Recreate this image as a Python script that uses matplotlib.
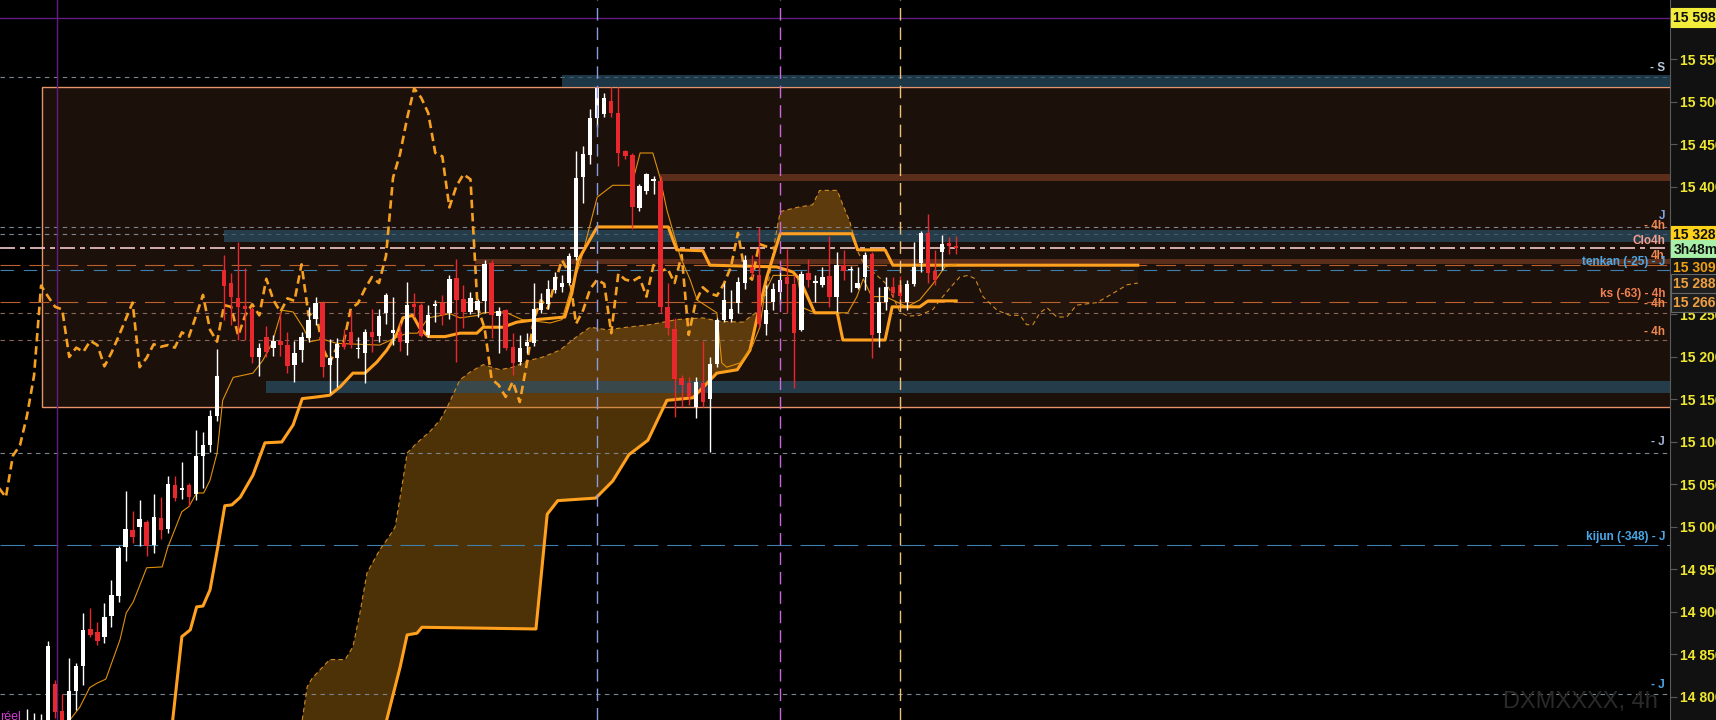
import matplotlib
matplotlib.use("Agg")
import matplotlib.pyplot as plt
from matplotlib.patches import Rectangle
import numpy as np

plt.rcParams['font.family'] = ['Liberation Sans', 'DejaVu Sans']

# 4h candles
opens = [14745, 14740, 14750, 14760, 14815, 14784, 14760, 14807, 14837, 14880,
         14876, 14870, 14895, 14919, 14976, 14996, 15000, 15006, 14979, 15011,
         14998, 15049, 15044, 15049, 15039, 15084, 15096, 15130, 15302, 15287,
         15269, 15260, 15256, 15200, 15224, 15210, 15219, 15214, 15191, 15208,
         15222, 15245, 15264, 15191, 15199, 15216, 15229, 15209, 15205, 15229,
         15225, 15252, 15228, 15229, 15216, 15262, 15261, 15226, 15260, 15263,
         15252, 15293, 15268, 15253, 15255, 15266, 15310, 15248, 15255, 15212,
         15194, 15213, 15216, 15255, 15262, 15279, 15282, 15287, 15318, 15412,
         15438, 15481, 15486, 15501, 15487, 15442, 15438, 15375, 15395, 15407,
         15407, 15259, 15233, 15175, 15169, 15141, 15169, 15150, 15192, 15244,
         15245, 15264, 15287, 15306, 15297, 15239, 15265, 15277, 15294, 15286,
         15232, 15299, 15287, 15285, 15295, 15271, 15308, 15302, 15281, 15294,
         15321, 15228, 15265, 15282, 15285, 15265, 15286, 15311, 15346, 15301,
         15324, 15334, 15331]
highs = [14786, 14781, 14780, 14866, 14820, 14804, 14846, 14840, 14899, 14905,
         14888, 14911, 14938, 14978, 15042, 15019, 15032, 15008, 15039, 15035,
         15060, 15060, 15076, 15052, 15114, 15112, 15138, 15209, 15320, 15299,
         15335, 15305, 15259, 15216, 15236, 15226, 15253, 15229, 15219, 15229,
         15259, 15271, 15266, 15221, 15222, 15233, 15255, 15224, 15233, 15257,
         15257, 15275, 15271, 15240, 15288, 15275, 15263, 15261, 15267, 15273,
         15297, 15315, 15285, 15276, 15268, 15314, 15314, 15259, 15257, 15228,
         15226, 15228, 15287, 15275, 15291, 15300, 15296, 15322, 15442, 15448,
         15492, 15518, 15511, 15518, 15518, 15444, 15440, 15404, 15417, 15413,
         15413, 15287, 15246, 15179, 15176, 15176, 15219, 15200, 15246, 15287,
         15279, 15294, 15320, 15320, 15353, 15285, 15287, 15300, 15327, 15296,
         15301, 15315, 15296, 15306, 15342, 15324, 15326, 15307, 15306, 15324,
         15323, 15282, 15294, 15294, 15295, 15290, 15335, 15348, 15368, 15326,
         15344, 15341, 15342]
lows = [14730, 14725, 14735, 14750, 14775, 14745, 14750, 14785, 14814, 14870,
        14861, 14864, 14882, 14912, 14960, 14981, 14978, 14966, 14969, 14986,
        14993, 15031, 15033, 15025, 15032, 15046, 15088, 15125, 15244, 15238,
        15220, 15220, 15193, 15178, 15200, 15201, 15201, 15181, 15171, 15194,
        15218, 15238, 15176, 15158, 15165, 15209, 15210, 15199, 15169, 15206,
        15218, 15239, 15214, 15207, 15202, 15247, 15223, 15223, 15241, 15238,
        15245, 15194, 15234, 15250, 15247, 15252, 15222, 15205, 15208, 15179,
        15190, 15205, 15213, 15252, 15257, 15275, 15276, 15285, 15314, 15381,
        15427, 15470, 15482, 15482, 15425, 15433, 15350, 15372, 15392, 15392,
        15252, 15226, 15129, 15141, 15144, 15128, 15141, 15088, 15188, 15241,
        15241, 15252, 15280, 15294, 15235, 15226, 15255, 15262, 15252, 15164,
        15230, 15282, 15265, 15282, 15259, 15253, 15291, 15276, 15280, 15279,
        15199, 15212, 15255, 15270, 15259, 15255, 15284, 15300, 15287, 15285,
        15302, 15321, 15321]
closes = [14765, 14760, 14765, 14860, 14782, 14760, 14807, 14837, 14879, 14873,
          14866, 14894, 14920, 14975, 14998, 14988, 15009, 14978, 15012, 14996,
          15051, 15034, 15046, 15035, 15084, 15096, 15131, 15178, 15284, 15271,
          15259, 15256, 15200, 15211, 15206, 15219, 15214, 15189, 15205, 15224,
          15244, 15264, 15188, 15199, 15215, 15212, 15214, 15211, 15229, 15224,
          15248, 15273, 15232, 15218, 15261, 15259, 15225, 15249, 15262, 15249,
          15292, 15267, 15253, 15269, 15266, 15309, 15249, 15254, 15211, 15193,
          15211, 15218, 15257, 15263, 15280, 15294, 15287, 15319, 15411, 15439,
          15481, 15516, 15505, 15487, 15440, 15436, 15376, 15401, 15415, 15409,
          15259, 15234, 15174, 15167, 15153, 15171, 15147, 15192, 15244, 15267,
          15257, 15288, 15314, 15299, 15239, 15255, 15280, 15291, 15286, 15228,
          15298, 15291, 15289, 15294, 15271, 15308, 15301, 15304, 15287, 15320,
          15226, 15265, 15282, 15275, 15272, 15286, 15306, 15346, 15299, 15291,
          15333, 15330, 15328]

# ichimoku lines (bar index, price)
tenkan_x = [6.1, 7.5, 8.9, 9.9, 11.2, 12.2, 13.2, 14.1, 15.1, 17.0, 19.2, 20.0, 22.0, 23.0,
            24.1, 25.1, 26.0, 27.0, 27.8, 29.3, 32.1, 33.5, 34.8, 36.2, 37.8, 39.2, 40.2,
            42.0, 44.0, 50.1, 53.0, 54.1, 55.5, 57.0, 60.1, 61.5, 64.1, 64.8, 67.9, 70.3,
            74.3, 76.0, 77.1, 78.6, 81.0, 83.2, 85.9, 87.1, 88.9, 89.9, 90.9, 92.8, 94.2,
            95.2, 96.7, 98.0, 98.7, 99.4, 101.3, 103.0, 104.1, 104.8, 106.0, 109.4, 110.2,
            111.9, 116.6, 117.9, 118.8, 120.0, 121.9, 123.0, 125.0, 126.8, 128.7, 130.4, 132.0]
tenkan_y = [14773, 14788, 14811, 14816, 14821, 14844, 14867, 14899, 14912, 14952, 14953,
            14976, 15018, 15024, 15040, 15040, 15055, 15087, 15149, 15176, 15181, 15196,
            15216, 15255, 15253, 15235, 15218, 15221, 15216, 15214, 15225, 15228, 15228,
            15246, 15251, 15246, 15249, 15252, 15253, 15244, 15240, 15244, 15275, 15311,
            15388, 15402, 15402, 15440, 15440, 15412, 15373, 15318, 15291, 15267, 15259,
            15252, 15193, 15188, 15193, 15212, 15235, 15275, 15296, 15296, 15258, 15252,
            15252, 15271, 15292, 15271, 15271, 15267, 15259, 15267, 15286, 15306, 15309]

kijun_x = [20.7, 22.0, 23.2, 24.1, 25.0, 26.0, 27.1, 28.1, 29.1, 30.3, 32.1, 33.8, 36.2,
           37.8, 39.1, 41.2, 43.0, 44.5, 46.3, 48.0, 49.7, 51.1, 52.6, 53.4, 54.8, 55.8,
           57.0, 59.4, 61.5, 63.9, 64.8, 67.6, 69.6, 72.4, 76.4, 77.4, 78.3, 81.0, 91.1,
           92.3, 96.0, 97.0, 106.5, 108.8, 109.8, 111.9, 115.1, 115.9, 121.9, 122.9, 126.8,
           128.0, 132.0]
kijun_y = [14773, 14871, 14879, 14906, 14907, 14926, 14976, 15025, 15026, 15035, 15061,
           15099, 15100, 15120, 15151, 15153, 15155, 15165, 15181, 15181, 15194, 15208,
           15228, 15246, 15249, 15234, 15224, 15224, 15228, 15228, 15235, 15235, 15241,
           15244, 15247, 15275, 15314, 15353, 15353, 15326, 15325, 15308, 15306, 15300,
           15291, 15252, 15252, 15220, 15220, 15259, 15259, 15266, 15266]

span_a_x = [39.1, 39.8, 40.5, 43.0, 45.2, 46.3, 47.3, 48.3, 50.1, 51.3, 52.3, 53.4, 54.0,
            55.4, 57.2, 58.7, 59.7, 61.5, 62.9, 64.8, 67.2, 69.0, 71.4, 73.3, 75.7, 78.1,
            80.0, 82.4, 85.2, 88.5, 92.3, 96.0, 98.4, 101.7, 103.7, 105.1, 106.3, 107.0,
            109.4, 111.6, 112.6, 115.1, 115.9, 116.9, 117.9, 118.8, 120.2, 122.2, 124.0,
            125.1, 126.8, 128.7, 129.7, 131.1, 132.5, 133.7, 134.7, 135.8, 137.8, 139.6,
            141.1, 142.0, 142.9, 143.9, 144.9, 146.3, 147.7, 149.1, 152.0, 154.3, 156.3, 157.8]
span_a_y = [14773, 14812, 14822, 14844, 14844, 14859, 14899, 14946, 14973, 14987, 15000,
            15055, 15087, 15099, 15112, 15126, 15141, 15173, 15182, 15191, 15185, 15188,
            15196, 15200, 15208, 15224, 15235, 15232, 15235, 15238, 15244, 15246, 15242,
            15241, 15253, 15276, 15340, 15371, 15376, 15379, 15396, 15396, 15379, 15359,
            15326, 15311, 15300, 15285, 15253, 15248, 15249, 15256, 15267, 15281, 15294,
            15296, 15292, 15271, 15255, 15249, 15249, 15238, 15238, 15252, 15258, 15247,
            15247, 15261, 15264, 15275, 15285, 15287]

span_b_x = [51.1, 51.8, 53.0, 54.0, 55.4, 56.1, 72.3, 73.9, 75.4, 80.8, 83.2, 85.5, 88.2,
            90.9, 94.6, 98.0, 100.9, 102.7, 103.8, 105.1, 107.0, 117.2, 118.0, 121.9, 123.0, 157.8]
span_b_y = [14773, 14796, 14835, 14873, 14875, 14882, 14880, 15015, 15031, 15034, 15054,
            15085, 15102, 15149, 15152, 15181, 15185, 15208, 15249, 15294, 15345, 15345,
            15326, 15326, 15308, 15308]
chikou_shift = 26

# drawn zones: start bar, low, high
box_zone = (2.13, 15141, 15518)
teal_zones = [(76.0, 15518, 15532), (28.0, 15335, 15349), (33.9, 15158, 15172)]
brown_zones = [(89.9, 15407, 15415), (63.6, 15309, 15315)]

# horizontal levels
gray_levels = [15529, 15353, 15345, 15087, 14804]
brown_levels = [15252, 15220]
ks_levels = [15308, 15265]
blue_levels = [15302, 14979]
last_price = 15328
purple_level = 15599
purple_bar = 4.25
vlines = [(81, '#8c9ae0'), (107, '#cc66dd'), (124, '#eec276')]

right_labels = [("- S", 15540, '#b8c8dc'), ("J", 15366, '#7fa8e8'),
                ("- 4h", 15354, '#f08850'), ("Clo4h", 15336, '#f4a090'),
                ("4h", 15319, '#f08850'), ("tenkan (-25) - J", 15312, '#4aa8e8'),
                ("ks (-63) - 4h", 15274, '#f08050'), ("- 4h", 15262, '#f08850'),
                ("- 4h", 15229, '#f08850'), ("- J", 15100, '#a8b8d8'),
                ("kijun (-348) - J", 14988, '#4aa8e8'), ("- J", 14814, '#4aa8e8')]

price_tags = [("15 598", 15599, '#111111', '#f2ec3a', '#f2ec3a'),
              ("15 328", 15343, '#111111', '#ffd21a', '#ffd21a'),
              ("3h48m", 15326, '#111111', '#a8f0a8', '#a8f0a8'),
              ("15 309", 15305, '#f0a010', '#151515', '#151515'),
              ("15 288", 15286, '#f0a040', '#1e1e1e', '#666666'),
              ("15 266", 15264, '#f0a040', '#1e1e1e', '#666666')]

ticks = [14800, 14850, 14900, 14950, 15000, 15050, 15100, 15150, 15200, 15250,
         15400, 15450, 15500, 15550]

fig = plt.figure(figsize=(17.16, 7.2), dpi=100, facecolor='#111111')
ax = fig.add_axes([0, 0, 1670 / 1716, 1])
ax.set_facecolor('black')
ax.set_xlim(-3.835, 233.4)
ax.set_ylim(14772.9, 15620)

# big box
ax.add_patch(Rectangle((box_zone[0], box_zone[1]), 300, box_zone[2] - box_zone[1],
                       fc='#1c100b', ec='#e8946a', lw=1, zorder=0.5))

# cloud
grid = np.linspace(span_a_x[0], span_a_x[-1], 3000)
a = np.interp(grid, span_a_x, span_a_y)
b = np.interp(grid, span_b_x, span_b_y, left=14600)
ax.fill_between(grid, a, b, where=a >= b, color='#b87812', alpha=0.42, lw=0, zorder=1)
ax.fill_between(grid, a, b, where=a < b, color='#b87812', alpha=0.05, lw=0, zorder=1)

for start, lo, hi in brown_zones:
    ax.add_patch(Rectangle((start, lo), 300, hi - lo, fc='#62321c', alpha=0.9, lw=0, zorder=1.5))

# levels
for p in gray_levels:
    ax.axhline(p, color='#7c8690', lw=0.8, ls=(0, (4, 4)), zorder=2)
for p in brown_levels:
    ax.axhline(p, color='#8a6656', lw=0.8, ls=(0, (4, 4)), zorder=2)
for p in ks_levels:
    ax.axhline(p, color='#b8602e', lw=0.8, ls=(0, (18, 8)), zorder=2)
ax.axhline(blue_levels[0], color='#3f7fae', lw=0.8, ls=(0, (12, 9)), zorder=2)
ax.axhline(blue_levels[1], color='#3f7fae', lw=0.8, ls=(0, (22, 8)), zorder=2)
ax.axhline(last_price, color='#f4c8c8', lw=1.2, ls=(0, (9, 3, 3, 3)), zorder=2)
ax.axhline(purple_level, color='#641e82', lw=1, zorder=2)
ax.axvline(purple_bar, color='#641e82', lw=1, zorder=2)

for start, lo, hi in teal_zones:
    ax.add_patch(Rectangle((start, lo), 300, hi - lo, fc='#2a4f66', alpha=0.7, lw=0, zorder=2.5))

# ichimoku
ax.plot(span_a_x, span_a_y, color='#d08a20', lw=0.8, ls=(0, (4, 3)), zorder=3)
ax.plot(span_b_x, span_b_y, color='#ffa01e', lw=2.2, zorder=3)
idx = np.arange(len(closes))
ax.plot(idx - chikou_shift, closes, color='#f5a020', lw=1.9, ls=(0, (3.2, 1.8)), zorder=3)
ax.plot(tenkan_x, tenkan_y, color='#e0900a', lw=0.8, zorder=3)
ax.plot(kijun_x, kijun_y, color='#ffa01e', lw=2.2, zorder=3)

# candles
o = np.array(opens); c = np.array(closes)
up = c >= o
cols = np.where(up, '#ffffff', '#e8282c')
ax.vlines(idx, lows, highs, colors=cols, lw=1, zorder=4)
body = np.maximum(np.abs(c - o), 1.3)
ax.bar(idx, body, bottom=np.minimum(o, c), width=0.62, color=cols, lw=0, zorder=4.1)

for x, col in vlines:
    ax.axvline(x, color=col, lw=1, ls=(0, (9, 5)), zorder=5)

# right side labels
for txt, p, col in right_labels:
    ax.text(232.7, p, txt, color=col, fontsize=8.5, fontweight='bold',
            ha='right', va='center', zorder=6)

ax.text(-3.8, 14776, "réel", color='#d040d0', fontsize=9, va='center', zorder=6)

# axis
for s in ['top', 'left', 'bottom']:
    ax.spines[s].set_visible(False)
ax.spines['right'].set_color('#5a5a5a')
ax.set_xticks([])
ax.yaxis.tick_right()
ax.set_yticks(ticks)
ax.set_yticklabels([f"{t:,}".replace(',', ' ') for t in ticks])
ax.tick_params(axis='y', colors='#5a5a5a', length=5, pad=2,
               labelcolor='#f0e830', labelsize=10)
for lab in ax.get_yticklabels():
    lab.set_fontweight('bold')

for txt, p, fg, bg, ec in price_tags:
    ax.text(1.002, p, txt, transform=ax.get_yaxis_transform(), color=fg,
            fontsize=10, fontweight='bold', ha='left', va='center', clip_on=False,
            zorder=7, bbox=dict(boxstyle='square,pad=0.18', fc=bg, ec=ec, lw=0.8))

fig.text(1658 / 1716, 1 - 702 / 720, "DXMXXXX, 4h", ha='right', va='center',
         color='#2a2a2a', fontsize=17)

fig.savefig("out.png", dpi=100, facecolor=fig.get_facecolor())
